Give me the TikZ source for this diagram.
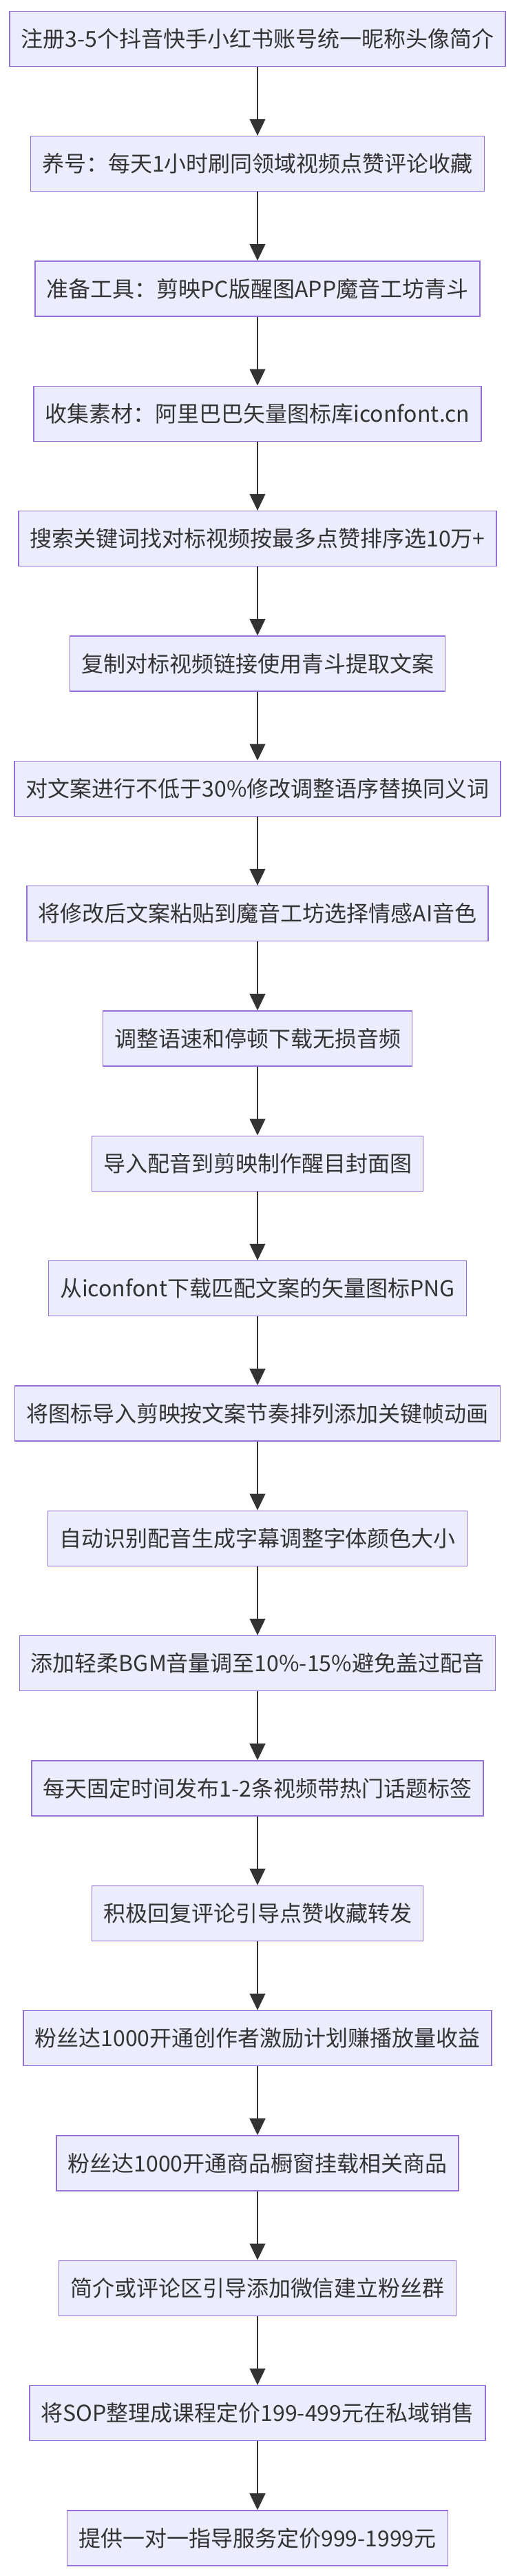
\documentclass[tikz,border=0pt]{standalone}
\usepackage{fontspec}
\setmainfont{Noto Sans CJK SC}
\usepackage{tikz}
\usetikzlibrary{arrows.meta, positioning}
\definecolor{boxfill}{HTML}{ECECFF}
\definecolor{boxline}{HTML}{9370DB}
\definecolor{mydark}{HTML}{333333}
\tikzset{
  stepbox/.style={rectangle, draw=boxline, fill=boxfill, text=mydark,
    inner xsep=12.4pt, minimum height=60pt, line width=1.1pt,
    font=\fontsize{24}{29}\selectfont},
  flowarrow/.style={-{Triangle[length=18pt, width=17pt]}, line width=1.6pt, color=mydark}
}
\begin{document}
\begin{tikzpicture}[node distance=74.9pt]
  \useasboundingbox (0,0) rectangle (561pt,-2803.5pt);
  \node[stepbox] (s1) at (280.5pt,-42.2pt) {注册3-5个抖音快手小红书账号统一昵称头像简介};
  \node[stepbox, below=of s1] (s2) {养号：每天1小时刷同领域视频点赞评论收藏};
  \node[stepbox, below=of s2] (s3) {准备工具：剪映PC版醒图APP魔音工坊青斗};
  \node[stepbox, below=of s3] (s4) {收集素材：阿里巴巴矢量图标库iconfont.cn};
  \node[stepbox, below=of s4] (s5) {搜索关键词找对标视频按最多点赞排序选10万+};
  \node[stepbox, below=of s5] (s6) {复制对标视频链接使用青斗提取文案};
  \node[stepbox, below=of s6] (s7) {对文案进行不低于30\%修改调整语序替换同义词};
  \node[stepbox, below=of s7] (s8) {将修改后文案粘贴到魔音工坊选择情感AI音色};
  \node[stepbox, below=of s8] (s9) {调整语速和停顿下载无损音频};
  \node[stepbox, below=of s9] (s10) {导入配音到剪映制作醒目封面图};
  \node[stepbox, below=of s10] (s11) {从iconfont下载匹配文案的矢量图标PNG};
  \node[stepbox, below=of s11] (s12) {将图标导入剪映按文案节奏排列添加关键帧动画};
  \node[stepbox, below=of s12] (s13) {自动识别配音生成字幕调整字体颜色大小};
  \node[stepbox, below=of s13] (s14) {添加轻柔BGM音量调至10\%-15\%避免盖过配音};
  \node[stepbox, below=of s14] (s15) {每天固定时间发布1-2条视频带热门话题标签};
  \node[stepbox, below=of s15] (s16) {积极回复评论引导点赞收藏转发};
  \node[stepbox, below=of s16] (s17) {粉丝达1000开通创作者激励计划赚播放量收益};
  \node[stepbox, below=of s17] (s18) {粉丝达1000开通商品橱窗挂载相关商品};
  \node[stepbox, below=of s18] (s19) {简介或评论区引导添加微信建立粉丝群};
  \node[stepbox, below=of s19] (s20) {将SOP整理成课程定价199-499元在私域销售};
  \node[stepbox, below=of s20] (s21) {提供一对一指导服务定价999-1999元};

  \draw[flowarrow] (s1) -- (s2);
  \draw[flowarrow] (s2) -- (s3);
  \draw[flowarrow] (s3) -- (s4);
  \draw[flowarrow] (s4) -- (s5);
  \draw[flowarrow] (s5) -- (s6);
  \draw[flowarrow] (s6) -- (s7);
  \draw[flowarrow] (s7) -- (s8);
  \draw[flowarrow] (s8) -- (s9);
  \draw[flowarrow] (s9) -- (s10);
  \draw[flowarrow] (s10) -- (s11);
  \draw[flowarrow] (s11) -- (s12);
  \draw[flowarrow] (s12) -- (s13);
  \draw[flowarrow] (s13) -- (s14);
  \draw[flowarrow] (s14) -- (s15);
  \draw[flowarrow] (s15) -- (s16);
  \draw[flowarrow] (s16) -- (s17);
  \draw[flowarrow] (s17) -- (s18);
  \draw[flowarrow] (s18) -- (s19);
  \draw[flowarrow] (s19) -- (s20);
  \draw[flowarrow] (s20) -- (s21);
\end{tikzpicture}
\end{document}
